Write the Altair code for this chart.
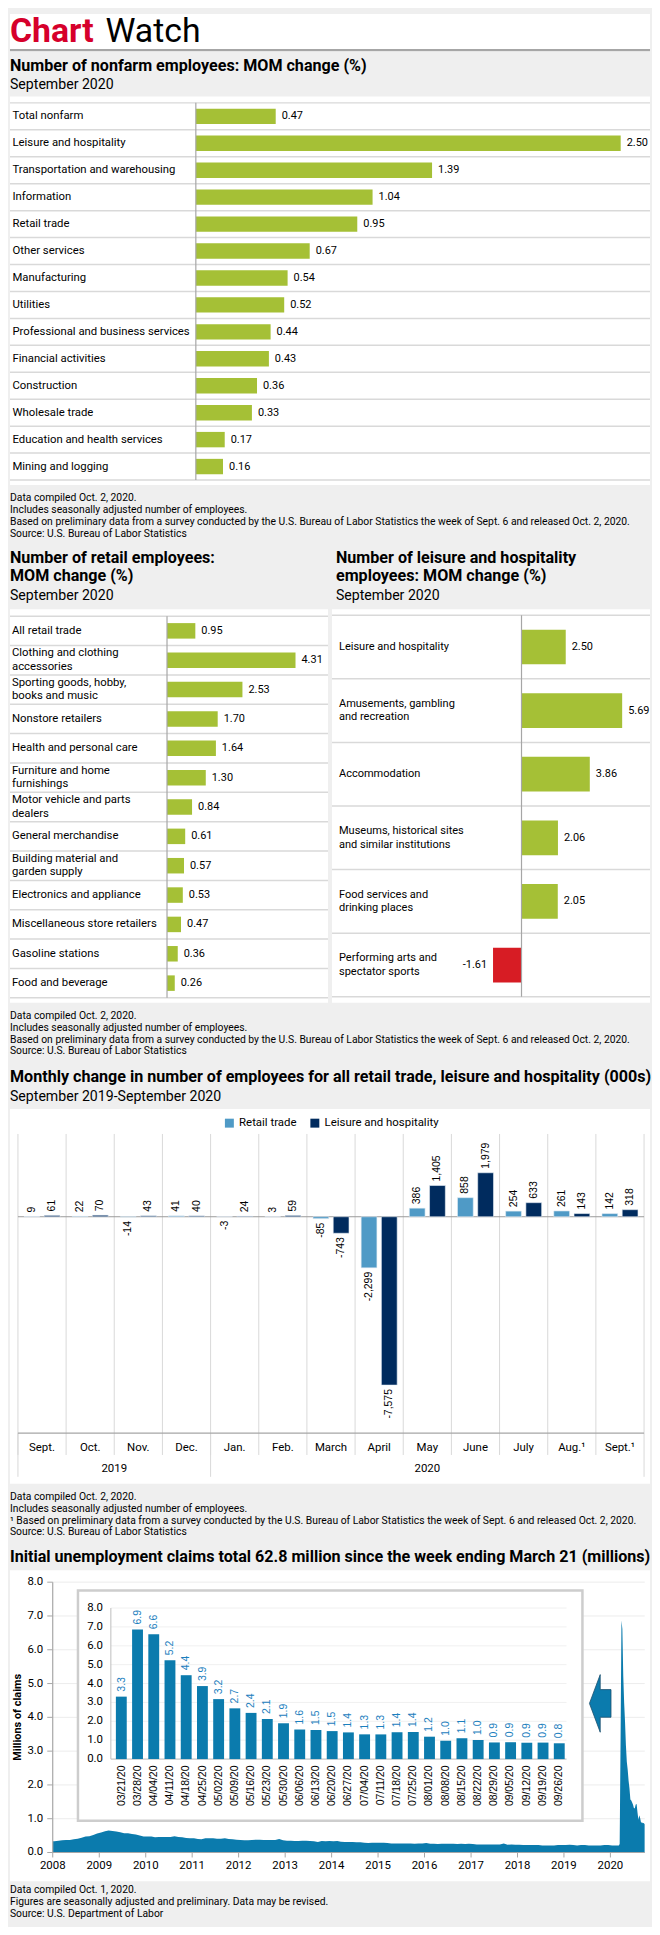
import altair as alt
import pandas as pd

# ---------------- data ----------------
nonfarm_cats = ["Total nonfarm", "Leisure and hospitality", "Transportation and warehousing",
                "Information", "Retail trade", "Other services", "Manufacturing", "Utilities",
                "Professional and business services", "Financial activities", "Construction",
                "Wholesale trade", "Education and health services", "Mining and logging"]
nonfarm_vals = [0.47, 2.50, 1.39, 1.04, 0.95, 0.67, 0.54, 0.52, 0.44, 0.43, 0.36, 0.33, 0.17, 0.16]

retail_cats = ["All retail trade", "Clothing and clothing|accessories", "Sporting goods, hobby,| books and music",
               "Nonstore retailers", "Health and personal care", "Furniture and home|furnishings",
               "Motor vehicle and parts|dealers", "General merchandise", "Building material and| garden supply",
               "Electronics and appliance", "Miscellaneous store retailers", "Gasoline stations",
               "Food and beverage"]
retail_vals = [0.95, 4.31, 2.53, 1.70, 1.64, 1.30, 0.84, 0.61, 0.57, 0.53, 0.47, 0.36, 0.26]

leisure_cats = ["Leisure and hospitality", "Amusements, gambling|and recreation", "Accommodation",
                "Museums, historical sites|and similar institutions", "Food services and|drinking places",
                "Performing arts and|spectator sports"]
leisure_vals = [2.50, 5.69, 3.86, 2.06, 2.05, -1.61]

months = ["Sept.", "Oct.", "Nov.", "Dec.", "Jan.", "Feb.", "March", "April", "May", "June", "July", "Aug.\u00b9", "Sept.\u00b9"]
series_names = ["Retail trade", "Leisure and hospitality"]
retail_change = [9, 22, -14, 41, -3, 3, -85, -2299, 386, 858, 254, 261, 142]
leisure_change = [61, 70, 43, 40, 24, 59, -743, -7575, 1405, 1979, 633, 143, 318]
year_groups = ["2019", "2020"]

week_labels = ["03/21/20", "03/28/20", "04/04/20", "04/11/20", "04/18/20", "04/25/20", "05/02/20",
               "05/09/20", "05/16/20", "05/23/20", "05/30/20", "06/06/20", "06/13/20", "06/20/20",
               "06/27/20", "07/04/20", "07/11/20", "07/18/20", "07/25/20", "08/01/20", "08/08/20",
               "08/15/20", "08/22/20", "08/29/20", "09/05/20", "09/12/20", "09/19/20", "09/26/20"]
week_claims = [3.307, 6.867, 6.615, 5.237, 4.442, 3.867, 3.176, 2.687, 2.446, 2.126, 1.897, 1.566,
               1.540, 1.482, 1.413, 1.310, 1.307, 1.422, 1.435, 1.186, 0.971, 1.104, 1.011, 0.881,
               0.893, 0.866, 0.873, 0.837]

claims_2008 = [0.33, 0.35, 0.36, 0.37, 0.37, 0.39, 0.41, 0.44, 0.47, 0.48, 0.52, 0.56]
claims_2009 = [0.59, 0.63, 0.65, 0.64, 0.62, 0.60, 0.57, 0.57, 0.55, 0.53, 0.50, 0.47]
claims_2010 = [0.47, 0.47, 0.45, 0.46, 0.46, 0.46, 0.46, 0.48, 0.46, 0.45, 0.43, 0.42]
claims_2011 = [0.42, 0.40, 0.39, 0.42, 0.42, 0.42, 0.41, 0.41, 0.42, 0.40, 0.39, 0.38]
claims_2012 = [0.37, 0.36, 0.36, 0.37, 0.38, 0.38, 0.37, 0.37, 0.37, 0.37, 0.40, 0.36]
claims_2013 = [0.35, 0.35, 0.34, 0.34, 0.35, 0.35, 0.34, 0.33, 0.31, 0.34, 0.33, 0.34]
claims_2014 = [0.33, 0.34, 0.32, 0.31, 0.31, 0.31, 0.30, 0.30, 0.29, 0.28, 0.29, 0.29]
claims_2015 = [0.29, 0.29, 0.28, 0.27, 0.27, 0.27, 0.27, 0.27, 0.27, 0.26, 0.27, 0.27]
claims_2016 = [0.28, 0.26, 0.26, 0.25, 0.26, 0.26, 0.26, 0.26, 0.25, 0.26, 0.25, 0.26]
claims_2017 = [0.25, 0.24, 0.24, 0.24, 0.24, 0.24, 0.24, 0.24, 0.27, 0.23, 0.24, 0.23]
claims_2018 = [0.23, 0.22, 0.22, 0.22, 0.22, 0.22, 0.21, 0.21, 0.21, 0.21, 0.22, 0.22]
claims_2019 = [0.22, 0.23, 0.22, 0.21, 0.22, 0.22, 0.21, 0.21, 0.21, 0.21, 0.22, 0.22]
claims_2020_jan_feb = [0.21, 0.21]
early_march_dates = ["2020-03-07", "2020-03-14"]
early_march_claims = [0.21, 0.25]
claim_years = list(range(2008, 2021))
claim_ticks = [0, 1, 2, 3, 4, 5, 6, 7, 8]

# ---------------- text ----------------
foot_bls = ["Data compiled Oct. 2, 2020.",
            "Includes seasonally adjusted number of employees.",
            "Based on preliminary data from a survey conducted by the U.S. Bureau of Labor Statistics the week of Sept. 6 and released Oct. 2, 2020.",
            "Source: U.S. Bureau of Labor Statistics"]
foot_bls_sup = ["Data compiled Oct. 2, 2020.",
                "Includes seasonally adjusted number of employees.",
                "\u00b9 Based on preliminary data from a survey conducted by the U.S. Bureau of Labor Statistics the week of Sept. 6 and released Oct. 2, 2020.",
                "Source: U.S. Bureau of Labor Statistics"]
foot_dol = ["Data compiled Oct. 1, 2020.",
            "Figures are seasonally adjusted and preliminary. Data may be revised.",
            "Source: U.S. Department of Labor"]

# ---------------- style ----------------
W = 644
BG = "#efefef"
GREEN = "#a5c036"
NEG_RED = "#d71c24"
TITLE_RED = "#d6002b"
FONT = "Roboto"
NUMFONT = "Liberation Sans"
GRID = "#d9d9d9"
AXISGRAY = "#a6a6a6"
LIGHTBLUE = "#4f9ac6"
NAVY = "#002b5e"
CLAIMBLUE = "#0b7bad"
LABELBLUE = "#1c80be"
TS, SS, FS = 16.2, 14.2, 10.4   # title, subtitle, footnote sizes

DUMMY = alt.Data(values=[{"d": 0}])

H_HEADER, H_GAP1, H_P1, H_GAP2, H_ROW2, H_GAP3, H_P3, H_GAP4, H_P4, H_FOOT = \
    38, 45, 391, 125, 396, 107, 377, 87, 313, 40
P3_TOP = H_HEADER + H_GAP1 + H_P1 + H_GAP2 + H_ROW2 + H_GAP3


def txt(text, x, y, size, weight="normal", color="#000000", align="left",
        baseline="alphabetic", font=FONT, lh=None, angle=None):
    kw = dict(text=text, fontSize=size, fontWeight=weight, color=color, align=align,
              baseline=baseline, font=font)
    if lh is not None:
        kw["lineHeight"] = lh
    if angle is not None:
        kw["angle"] = angle
    return alt.Chart(DUMMY).mark_text(**kw).encode(x=alt.value(x), y=alt.value(y))


def rect(x1, x2, y1, y2, color="white"):
    return alt.Chart(DUMMY).mark_rect(color=color).encode(
        x=alt.value(x1), x2=alt.value(x2), y=alt.value(y1), y2=alt.value(y2))


def hrule(x1, x2, y, color=AXISGRAY, sw=1.0):
    return alt.Chart(DUMMY).mark_rule(color=color, strokeWidth=sw).encode(
        x=alt.value(x1), x2=alt.value(x2), y=alt.value(y))


def vrule(x, y1, y2, color=AXISGRAY, sw=1.0):
    return alt.Chart(DUMMY).mark_rule(color=color, strokeWidth=sw).encode(
        x=alt.value(x), y=alt.value(y1), y2=alt.value(y2))


def hbar_layers(cats, vals, x0, width, height, row_top, row_bot, base_x, ppu, label_x, half, lh, fs, vfs):
    n = len(cats)
    df = pd.DataFrame({"cat": cats, "val": vals})
    df["idx"] = list(range(n))
    df["zero"] = 0.0
    df["lab"] = [f"{v:.2f}" for v in vals]
    lo, hi = min(0.0, min(vals)), max(vals)
    bx = x0 + base_x
    xs = alt.Scale(domain=[lo, hi], range=[bx + lo * ppu, bx + hi * ppu], nice=False, zero=False)
    ys = alt.Scale(domain=[-0.5, n - 0.5], range=[row_top, row_bot], nice=False, zero=False)
    seps = alt.Chart(pd.DataFrame({"b": [i - 0.5 for i in range(n + 1)]})).mark_rule(
        color=GRID, strokeWidth=1.5).encode(
        x=alt.value(x0), x2=alt.value(x0 + width), y=alt.Y("b:Q", scale=ys, axis=None))
    axis_line = alt.Chart(pd.DataFrame({"z": [0.0], "t": [-0.5], "u": [n - 0.5]})).mark_rule(
        color=AXISGRAY, strokeWidth=1.2).encode(
        x=alt.X("z:Q", scale=xs, axis=None), y=alt.Y("t:Q", scale=ys, axis=None), y2="u:Q")
    base = alt.Chart(df)
    bars = base.transform_calculate(
        ya=f"datum.idx - {half}", yb=f"datum.idx + {half}").mark_rect().encode(
        x=alt.X("zero:Q", scale=xs, axis=None), x2="val:Q",
        y=alt.Y("ya:Q", scale=ys, axis=None), y2="yb:Q",
        color=alt.condition("datum.val < 0", alt.value(NEG_RED), alt.value(GREEN)))
    pos = base.transform_filter("datum.val >= 0").mark_text(
        align="left", baseline="middle", dx=6, fontSize=vfs, font=FONT, color="#000").encode(
        x=alt.X("val:Q", scale=xs, axis=None), y=alt.Y("idx:Q", scale=ys, axis=None), text="lab:N")
    neg = base.transform_filter("datum.val < 0").mark_text(
        align="right", baseline="middle", dx=-6, fontSize=vfs, font=FONT, color="#000").encode(
        x=alt.X("val:Q", scale=xs, axis=None), y=alt.Y("idx:Q", scale=ys, axis=None), text="lab:N")
    one = base.transform_filter("indexof(datum.cat, '|') < 0").mark_text(
        align="left", baseline="middle", fontSize=fs, font=FONT, color="#000").encode(
        x=alt.value(x0 + label_x), y=alt.Y("idx:Q", scale=ys, axis=None), text="cat:N")
    two = base.transform_filter("indexof(datum.cat, '|') >= 0").transform_calculate(
        lines="split(datum.cat, '|')").mark_text(
        align="left", baseline="middle", lineHeight=lh, dy=-lh / 2, fontSize=fs, font=FONT,
        color="#000").encode(
        x=alt.value(x0 + label_x), y=alt.Y("idx:Q", scale=ys, axis=None), text="lines:N")
    return [rect(x0, x0 + width, 0, height), seps, bars, axis_line, pos, neg, one, two]


# ---------------- header ----------------
header = alt.layer(
    rect(0, W, 0, H_HEADER),
    txt("Chart", 0, 28, 34, "bold", TITLE_RED),
    txt("Watch", 96, 28, 34, "normal"),
    hrule(0, W, 36.5, "#a6a6a6", 2.2),
).properties(width=W, height=H_HEADER)

gap1 = alt.layer(
    txt("Number of nonfarm employees: MOM change (%)", 0, 19, TS, "bold"),
    txt("September 2020", 0, 37.5, SS),
).properties(width=W, height=H_GAP1)

panel1 = alt.layer(*hbar_layers(nonfarm_cats, nonfarm_vals, 0, W, H_P1, 6.5, 386, 187, 171,
                                2.5, 0.286, 13, 11.4, 11)).properties(width=W, height=H_P1)

gap2 = alt.layer(
    txt(foot_bls, 0, 16.6, FS, lh=11.8),
    txt(["Number of retail employees:", "MOM change (%)"], 0, 78, TS, "bold", lh=19),
    txt("September 2020", 0, 116, SS),
    txt(["Number of leisure and hospitality", "employees: MOM change (%)"], 328, 78, TS, "bold", lh=19),
    txt("September 2020", 328, 116, SS),
).properties(width=W, height=H_GAP2)

row2_layers = (hbar_layers(retail_cats, retail_vals, 0, 320, H_ROW2, 7, 391, 158, 30, 2, 0.264, 13.5, 11.4, 11)
               + hbar_layers(leisure_cats, leisure_vals, 324, 320, H_ROW2, 6, 390, 190.7, 17.8, 7, 0.273, 13.7, 11.1, 11))
row2 = alt.layer(*row2_layers).resolve_scale(x="independent", y="independent").properties(
    width=W, height=H_ROW2)

gap3 = alt.layer(
    txt(foot_bls, 0, 16.6, FS, lh=11.8),
    txt("Monthly change in number of employees for all retail trade, leisure and hospitality (000s)",
        0, 79.5, TS, "bold"),
    txt("September 2019-September 2020", 0, 98.5, SS),
).properties(width=W, height=H_GAP3)

# ---------------- monthly change chart ----------------
mdf = pd.DataFrame({
    "m": months * 2,
    "series": [series_names[0]] * len(months) + [series_names[1]] * len(months),
    "val": retail_change + leisure_change,
})
mdf["zero"] = 0
mdf["lab"] = [f"{v:,}" for v in mdf["val"]]
MX0, MX1 = 8, 638
MX = alt.Scale(domain=months, range=[MX0, MX1], paddingInner=0, paddingOuter=0)
MY = alt.Scale(domain=[-9736, 3725], range=[326, 25], nice=False, zero=False)
XO = alt.Scale(domain=series_names, paddingInner=0.22, paddingOuter=0.3)
mbase = alt.Chart(mdf)
month_df = pd.DataFrame({"m": months})

m_grid = alt.Chart(month_df).mark_rule(color=GRID, strokeWidth=1).encode(
    x=alt.X("m:N", scale=MX, axis=None, bandPosition=0), y=alt.value(25), y2=alt.value(348))
m_grid_end = vrule(MX1, 25, 370, GRID, 1)
yr_sep = alt.Chart(pd.DataFrame({"m": [months[0], months[4]]})).mark_rule(color=GRID, strokeWidth=1).encode(
    x=alt.X("m:N", scale=MX, axis=None, bandPosition=0), y=alt.value(326), y2=alt.value(370))
m_zero = alt.Chart(pd.DataFrame({"z": [0]})).mark_rule(color="#9a9a9a", strokeWidth=1).encode(
    x=alt.value(MX0), x2=alt.value(MX1), y=alt.Y("z:Q", scale=MY, axis=None))
m_axis = hrule(MX0, MX1, 326, AXISGRAY, 1.2)
m_bars = mbase.mark_bar(stroke="#e6eef5", strokeWidth=0.6).encode(
    x=alt.X("m:N", scale=MX, axis=None),
    xOffset=alt.XOffset("series:N", scale=XO),
    y=alt.Y("val:Q", scale=MY, axis=None), y2="zero:Q",
    color=alt.Color("series:N", scale=alt.Scale(domain=series_names, range=[LIGHTBLUE, NAVY]),
                    legend=alt.Legend(title=None, orient="none", legendX=215, legendY=P3_TOP + 8,
                                      direction="horizontal", symbolType="square", symbolSize=81,
                                      symbolStrokeWidth=0, labelFontSize=11.5, labelFont=FONT,
                                      labelColor="#000", columnPadding=12, padding=0, labelOffset=4)))
m_pos = mbase.transform_filter("datum.val >= 0").mark_text(
    angle=270, align="left", baseline="middle", dx=4, font=NUMFONT, fontSize=10.5, color="#000").encode(
    x=alt.X("m:N", scale=MX, axis=None), xOffset=alt.XOffset("series:N", scale=XO),
    y=alt.Y("val:Q", scale=MY, axis=None), text="lab:N")
m_neg = mbase.transform_filter("datum.val < 0").mark_text(
    angle=270, align="right", baseline="middle", dx=-4, font=NUMFONT, fontSize=10.5, color="#000").encode(
    x=alt.X("m:N", scale=MX, axis=None), xOffset=alt.XOffset("series:N", scale=XO),
    y=alt.Y("val:Q", scale=MY, axis=None), text="lab:N")
m_labels = alt.Chart(month_df).mark_text(baseline="middle", fontSize=11.5, font=FONT, color="#000").encode(
    x=alt.X("m:N", scale=MX, axis=None), y=alt.value(341), text="m:N")
yr19 = alt.Chart(pd.DataFrame({"m": [months[2]], "t": [year_groups[0]]})).mark_text(
    baseline="middle", fontSize=11.5, font=FONT, color="#000").encode(
    x=alt.X("m:N", scale=MX, axis=None, bandPosition=0), y=alt.value(362), text="t:N")
yr20 = alt.Chart(pd.DataFrame({"m": [months[8]], "t": [year_groups[1]]})).mark_text(
    baseline="middle", fontSize=11.5, font=FONT, color="#000").encode(
    x=alt.X("m:N", scale=MX, axis=None), y=alt.value(362), text="t:N")

panel3 = alt.layer(rect(0, W, 0, H_P3), m_grid, m_grid_end, yr_sep, m_zero, m_axis, m_bars,
                   m_pos, m_neg, m_labels, yr19, yr20).properties(width=W, height=H_P3)

gap4 = alt.layer(
    txt(foot_bls_sup, 0, 16.6, FS, lh=11.8),
    txt("Initial unemployment claims total 62.8 million since the week ending March 21 (millions)",
        0, 79, TS, "bold"),
).properties(width=W, height=H_GAP4)

# ---------------- claims chart ----------------
yearly = [claims_2008, claims_2009, claims_2010, claims_2011, claims_2012, claims_2013,
          claims_2014, claims_2015, claims_2016, claims_2017, claims_2018, claims_2019]
c_dates, c_vals = [], []
for yi, arr in zip(range(2008, 2020), yearly):
    for mi, v in enumerate(arr):
        c_dates.append(f"{yi}-{mi + 1:02d}-15")
        c_vals.append(v)
c_dates = ["2008-01-01"] + c_dates
c_vals = [claims_2008[0]] + c_vals
for mi, v in enumerate(claims_2020_jan_feb):
    c_dates.append(f"2020-{mi + 1:02d}-15")
    c_vals.append(v)
c_dates += early_march_dates
c_vals += early_march_claims
for lab, v in zip(week_labels, week_claims):
    mm, dd, yy = lab.split("/")
    c_dates.append(f"20{yy}-{mm}-{dd}")
    c_vals.append(v)
cdf = pd.DataFrame({"date": c_dates, "val": c_vals})

CX0, CX1 = 43, 638.7
CX = alt.Scale(domain=[alt.DateTime(year=2008, month=1, date=1), alt.DateTime(year=2020, month=9, date=27)],
               range=[CX0, CX1], nice=False)
CY = alt.Scale(domain=[0, 8], range=[284, 12], nice=False, zero=False)
tick_df = pd.DataFrame({"t": claim_ticks, "lab": [f"{t:.1f}" for t in claim_ticks]})
yr_df = pd.DataFrame({"yr": [f"{y}-01-01" for y in claim_years], "lab": [str(y) for y in claim_years]})

c_grid = alt.Chart(tick_df).mark_rule(color="#ececec", strokeWidth=1).encode(
    x=alt.value(CX0), x2=alt.value(CX1), y=alt.Y("t:Q", scale=CY, axis=None))
c_area = alt.Chart(cdf).mark_area(color=CLAIMBLUE, interpolate="linear").encode(
    x=alt.X("date:T", scale=CX, axis=None), y=alt.Y("val:Q", scale=CY, axis=None))
c_ylab = alt.Chart(tick_df).mark_text(align="right", baseline="middle", fontSize=11.5, font=FONT, color="#000").encode(
    x=alt.value(33.5), y=alt.Y("t:Q", scale=CY, axis=None), text="lab:N")
c_ytick = alt.Chart(tick_df).mark_rule(color=AXISGRAY).encode(
    x=alt.value(37.5), x2=alt.value(CX0), y=alt.Y("t:Q", scale=CY, axis=None))
c_yaxis = vrule(CX0, 12, 284, AXISGRAY, 1.2)
c_xaxis = hrule(CX0, CX1, 284, AXISGRAY, 1.2)
c_xlab = alt.Chart(yr_df).mark_text(baseline="middle", fontSize=11.5, font=FONT, color="#000").encode(
    x=alt.X("yr:T", scale=CX, axis=None), y=alt.value(298), text="lab:N")
c_xtick = alt.Chart(yr_df).mark_rule(color=AXISGRAY).encode(
    x=alt.X("yr:T", scale=CX, axis=None), y=alt.value(284), y2=alt.value(289))
c_ytitle = txt("Millions of claims", 8, 148, 11, "bold", align="center", baseline="middle", angle=270)

# inset
wdf = pd.DataFrame({"wk": week_labels, "val": week_claims})
wdf["zero"] = 0.0
wdf["lab"] = [f"{v:.1f}" for v in week_claims]
IX = alt.Scale(domain=week_labels, range=[104.1, 560.6], paddingInner=0.33, paddingOuter=0.15)
IY = alt.Scale(domain=[0, 8], range=[190, 38], nice=False, zero=False)
i_frame = alt.Chart(DUMMY).mark_rect(fill="white", stroke="#cdcdcd", strokeWidth=2.5).encode(
    x=alt.value(68.4), x2=alt.value(576), y=alt.value(20.3), y2=alt.value(252))
i_grid = alt.Chart(tick_df).mark_rule(color="#f0f0f0", strokeWidth=1).encode(
    x=alt.value(101.5), x2=alt.value(560), y=alt.Y("t:Q", scale=IY, axis=None))
i_ylab = alt.Chart(tick_df).mark_text(align="right", baseline="middle", fontSize=11.5, font=FONT, color="#000").encode(
    x=alt.value(93.6), y=alt.Y("t:Q", scale=IY, axis=None), text="lab:N")
i_yaxis = vrule(101.5, 38, 190, "#bdbdbd", 1)
i_xaxis = hrule(101.5, 560, 190, "#bdbdbd", 1)
i_bars = alt.Chart(wdf).mark_bar(color=CLAIMBLUE).encode(
    x=alt.X("wk:N", scale=IX, axis=None), y=alt.Y("val:Q", scale=IY, axis=None), y2="zero:Q")
i_vals = alt.Chart(wdf).mark_text(angle=270, align="left", baseline="middle", dx=5, font=NUMFONT,
                                  fontSize=10.5, color=LABELBLUE).encode(
    x=alt.X("wk:N", scale=IX, axis=None), y=alt.Y("val:Q", scale=IY, axis=None), text="lab:N")
i_dates = alt.Chart(wdf).mark_text(angle=270, align="right", baseline="middle", font=NUMFONT,
                                   fontSize=10.5, color="#000").encode(
    x=alt.X("wk:N", scale=IX, axis=None), y=alt.value(196.5), text="wk:N")
arrow = alt.Chart(DUMMY).mark_point(
    shape="M -0.374 0 L 0 -1 L 0 -0.48 L 0.374 -0.48 L 0.374 0.48 L 0 0.48 L 0 1 Z",
    size=3364, filled=True, fill=CLAIMBLUE, stroke="#1d4f6e", strokeWidth=0.8, opacity=1).encode(
    x=alt.value(593.9), y=alt.value(134))

panel4 = alt.layer(rect(0, W, 0, H_P4), c_grid, c_area, c_ylab, c_ytick, c_yaxis, c_xaxis, c_xlab, c_xtick,
                   c_ytitle, i_frame, i_grid, i_ylab, i_yaxis, i_xaxis, i_bars, i_vals, i_dates, arrow
                   ).resolve_scale(x="independent", y="independent").properties(width=W, height=H_P4)

foot5 = alt.layer(
    txt(foot_dol, 0, 12, FS, lh=11.8),
).properties(width=W, height=H_FOOT)

chart = alt.vconcat(header, gap1, panel1, gap2, row2, gap3, panel3, gap4, panel4, foot5,
                    spacing=0).properties(padding=0, bounds="flush", background=BG)
chart = chart.configure(font=FONT).configure_view(stroke=None, strokeWidth=0)

chart.save("out.html", embed_options={"renderer": "svg", "actions": False})
